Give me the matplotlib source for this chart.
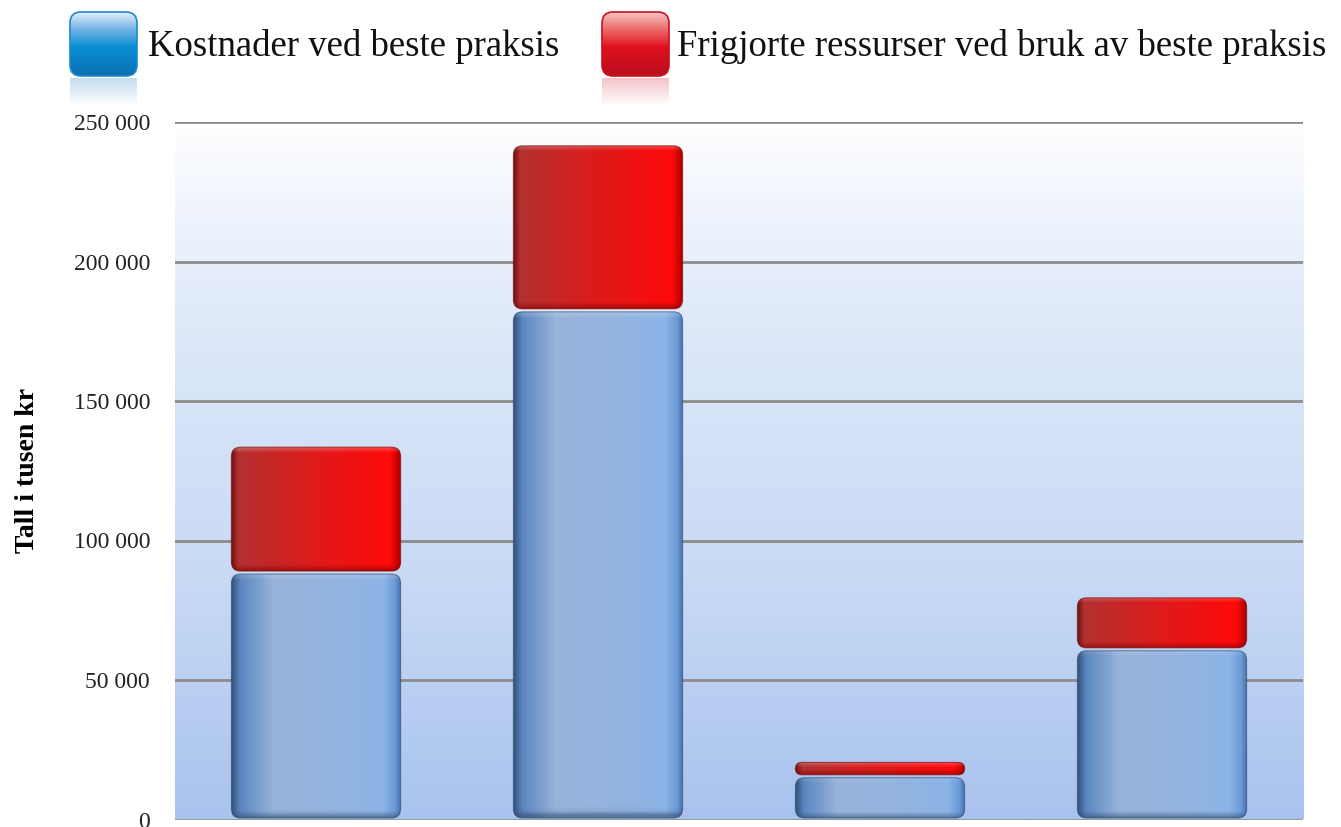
import numpy as np
import matplotlib.pyplot as plt
from matplotlib.colors import LinearSegmentedColormap, to_rgb
from matplotlib.patches import FancyBboxPatch
from matplotlib.ticker import FuncFormatter

# data (tusen kr)
categories = ['A', 'B', 'C', 'D']
kostnader = [88500, 182500, 15500, 61000]
frigjorte = [45500, 59500, 5500, 19000]
series_names = ['Kostnader ved beste praksis',
                'Frigjorte ressurser ved bruk av beste praksis']
yticks = [0, 50000, 100000, 150000, 200000, 250000]

W_PX, H_PX = 1341, 827
fig = plt.figure(figsize=(W_PX / 100, H_PX / 100), dpi=100)

# main axes placed in pixel terms
x0, x1, ytop, ybot = 175, 1303, 122, 819.5
ax = fig.add_axes([x0 / W_PX, (H_PX - ybot) / H_PX,
                   (x1 - x0) / W_PX, (ybot - ytop) / H_PX])
ax.set_xlim(-0.5, 3.5)
ax.set_ylim(0, 250000)

# background gradient (white top -> light blue bottom)
bg_cmap = LinearSegmentedColormap.from_list(
    'bg', [(0, '#a9c3ee'), (0.35, '#c9daf5'), (0.7, '#dde8f9'),
           (0.9, '#f2f6fd'), (1, '#ffffff')])
grad = np.linspace(0, 1, 256).reshape(-1, 1)
ax.imshow(grad, cmap=bg_cmap, aspect='auto', origin='lower',
          extent=(-0.5, 3.5, 0, 250000), zorder=0)

ax.set_yticks(yticks)
ax.yaxis.set_major_formatter(FuncFormatter(lambda v, p: f'{int(v):,}'.replace(',', ' ')))
ax.set_xticks([])
ax.tick_params(axis='y', length=0, pad=18, labelsize=17, labelcolor='#222222')
for lab in ax.get_yticklabels():
    lab.set_fontfamily('Liberation Serif')
ax.grid(axis='y', color='#8c8c8c', lw=2, zorder=1)
for s in ax.spines.values():
    s.set_visible(False)
ax.set_ylabel('Tall i tusen kr', fontfamily='Liberation Serif',
              fontweight='bold', fontsize=20)
ax.yaxis.set_label_coords((40 - x0) / (x1 - x0), 0.5)

x = np.arange(len(categories))
width = 0.6
b1 = ax.bar(x, kostnader, width, color='none', zorder=2, label=series_names[0])
b2 = ax.bar(x, frigjorte, width, bottom=kostnader, color='none', zorder=2,
            label=series_names[1])

# px -> data unit conversion, for rounded corners
px_x = 4.0 / (x1 - x0)
px_y = 250000 / (ybot - ytop)
aspect = px_y / px_x


def stops_cmap(stops):
    return LinearSegmentedColormap.from_list('c', stops)


blue_h = stops_cmap([(0, '#34527c'), (0.05, '#5a86bf'), (0.25, '#98b4da'),
                     (0.6, '#93b3df'), (0.9, '#8cb4e6'), (0.97, '#6b9ad6'),
                     (1, '#4a74b0')])
red_h = stops_cmap([(0, '#6e1414'), (0.04, '#b43030'), (0.5, '#df1a1a'),
                    (0.94, '#ff0a0a'), (1, '#b00000')])


def gradient_box(rect, cmap, edge_dark, top_light=0.0):
    bx, by = rect.get_x(), rect.get_y()
    bw, bh = rect.get_width(), rect.get_height()
    gap = 1.5 * px_y
    by, bh = by + gap, max(bh - 2 * gap, 2 * px_y)
    r = min(9 * px_x, bh / aspect / 2)
    box = FancyBboxPatch((bx, by), bw, bh,
                         boxstyle=f'round,pad=0,rounding_size={r}',
                         mutation_aspect=aspect, facecolor='none',
                         edgecolor='none', zorder=3)
    ax.add_patch(box)
    nx, ny = 200, 100
    img = cmap(np.linspace(0, 1, nx))[:, :3][None, :, :].repeat(ny, axis=0)
    # vertical shading: darker bottom edge, lighter top edge
    hpx = bh / px_y
    yy = np.linspace(0, hpx, ny)[:, None, None]
    dark = np.clip(1 - yy / 6.0, 0, 1) * 0.55
    light = np.clip(1 - (hpx - yy) / 5.0, 0, 1) * top_light
    ec = np.array(to_rgb(edge_dark))
    img = img * (1 - dark) + ec * dark
    img = img * (1 - light) + 1.0 * light
    im = ax.imshow(img, origin='lower', aspect='auto',
                   extent=(bx, bx + bw, by, by + bh), zorder=3)
    im.set_clip_path(box)
    outline = FancyBboxPatch((bx, by), bw, bh,
                             boxstyle=f'round,pad=0,rounding_size={r}',
                             mutation_aspect=aspect, facecolor='none',
                             edgecolor=edge_dark, lw=0.8, alpha=0.6, zorder=4)
    ax.add_patch(outline)


for rect in b1:
    gradient_box(rect, blue_h, '#2f4a70', top_light=0.15)
for rect in b2:
    gradient_box(rect, red_h, '#7a0000', top_light=0.25)

# legend drawn in a full-figure pixel axes
lax = fig.add_axes([0, 0, 1, 1], zorder=-1)
lax.set_xlim(0, W_PX)
lax.set_ylim(0, H_PX)
lax.axis('off')

icon_blue = stops_cmap([(0, '#0a6fb0'), (0.45, '#0a8fd4'), (0.75, '#7ab6e6'),
                        (1, '#e6eff9')])
icon_red = stops_cmap([(0, '#b80e1c'), (0.45, '#e0101e'), (0.75, '#ee7070'),
                       (1, '#f6c4c4')])
legend_items = [(70, icon_blue, '#1a8ad0', 148, series_names[0]),
                (602, icon_red, '#c81020', 677, series_names[1])]
for ix, cmap, ecol, tx, label in legend_items:
    iy_top, isz = 12, 64
    bx, by = ix, H_PX - iy_top - isz
    box = FancyBboxPatch((bx, by), 67, isz,
                         boxstyle='round,pad=0,rounding_size=11',
                         facecolor='none', edgecolor=ecol, lw=1.2, zorder=3)
    lax.add_patch(box)
    g = np.linspace(0, 1, 128).reshape(-1, 1)
    im = lax.imshow(g, cmap=cmap, origin='lower', aspect='auto',
                    extent=(bx, bx + 67, by, by + isz), zorder=2)
    im.set_clip_path(box)
    # faint reflection below the icon
    rg = np.linspace(0, 1, 64).reshape(-1, 1)
    rimg = np.ones((64, 1, 4))
    rimg[:, 0, :3] = cmap(0.2)[:3]
    rimg[:, 0, 3] = rg[:, 0] * 0.25
    lax.imshow(rimg, origin='lower', aspect='auto',
               extent=(bx, bx + 67, by - 30, by - 2), zorder=2)
    lax.text(tx, H_PX - 46, label, fontsize=26.5, fontfamily='Liberation Serif',
             ha='left', va='center', color='#111111')

fig.savefig('out.png', dpi=100)
